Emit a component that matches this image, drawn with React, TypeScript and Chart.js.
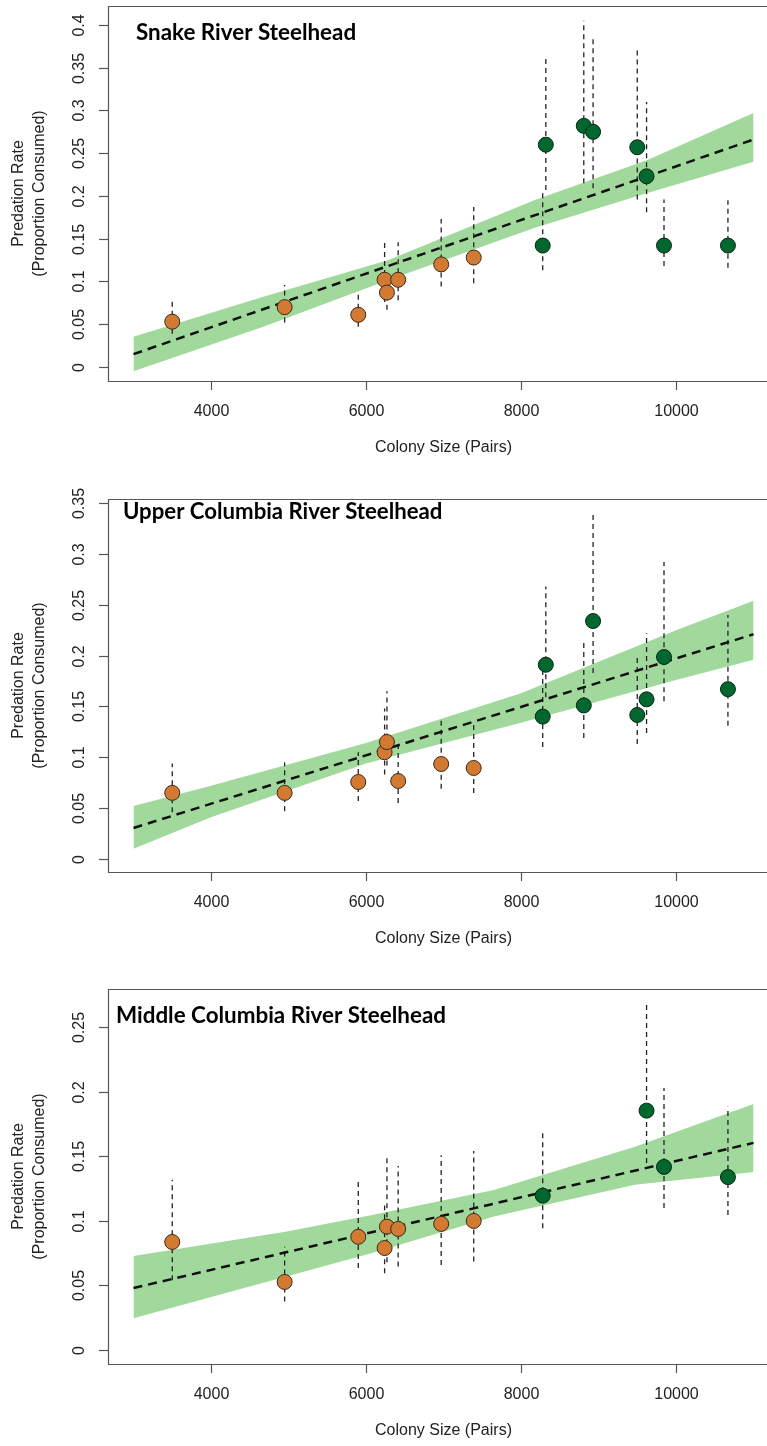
import React, { useEffect, useRef } from "react";
import { Chart, registerables } from "chart.js";
Chart.register(...registerables);

// ---------- data ----------
const orangeColony = [3500, 4950, 5900, 6240, 6270, 6415, 6970, 7390];
const greenColony = [8280, 8320, 8810, 8930, 9500, 9620, 9845, 10670];
const greenColonyMid = [8280, 9620, 9845, 10670];
const xTicks = [4000, 6000, 8000, 10000];
const fitX = [3000, 11000];

// Snake River Steelhead
const snakeOrangeRate = [0.053, 0.070, 0.061, 0.102, 0.087, 0.102, 0.120, 0.128];
const snakeOrangeLo = [0.039, 0.052, 0.047, 0.076, 0.067, 0.078, 0.094, 0.098];
const snakeOrangeHi = [0.077, 0.096, 0.088, 0.145, 0.110, 0.146, 0.173, 0.187];
const snakeGreenRate = [0.142, 0.260, 0.282, 0.275, 0.257, 0.223, 0.142, 0.142];
const snakeGreenLo = [0.113, 0.207, 0.215, 0.209, 0.196, 0.181, 0.118, 0.116];
const snakeGreenHi = [0.2035, 0.361, 0.405, 0.388, 0.372, 0.310, 0.196, 0.195];
const snakeFit = [0.015, 0.266];
const snakeBandX = [3000, 4675, 6290, 8170, 9630, 11000];
const snakeBandHi = [0.0355, 0.082, 0.125, 0.195, 0.242, 0.297];
const snakeBandLo = [-0.005, 0.047, 0.1017, 0.1626, 0.2035, 0.240];
const snakeYTicks = [0, 0.05, 0.1, 0.15, 0.2, 0.25, 0.3, 0.35, 0.4];

// Upper Columbia River Steelhead
const upperOrangeRate = [0.065, 0.065, 0.0757, 0.105, 0.115, 0.0767, 0.0934, 0.0895];
const upperOrangeLo = [0.046, 0.047, 0.057, 0.083, 0.092, 0.055, 0.069, 0.065];
const upperOrangeHi = [0.094, 0.095, 0.105, 0.148, 0.165, 0.114, 0.137, 0.135];
const upperGreenRate = [0.140, 0.191, 0.151, 0.234, 0.1416, 0.157, 0.1986, 0.167];
const upperGreenLo = [0.110, 0.159, 0.119, 0.183, 0.113, 0.124, 0.155, 0.131];
const upperGreenHi = [0.187, 0.268, 0.216, 0.341, 0.198, 0.222, 0.292, 0.240];
const upperFit = [0.0305, 0.221];
const upperBandX = [3000, 4000, 6000, 8000, 10000, 11000];
const upperBandHi = [0.052, 0.072, 0.114, 0.163, 0.225, 0.254];
const upperBandLo = [0.010, 0.041, 0.094, 0.134, 0.176, 0.196];
const upperYTicks = [0, 0.05, 0.1, 0.15, 0.2, 0.25, 0.3, 0.35];

// Middle Columbia River Steelhead
const midOrangeRate = [0.0837, 0.0527, 0.0877, 0.079, 0.0956, 0.0938, 0.0977, 0.100];
const midOrangeLo = [0.054, 0.0375, 0.0636, 0.0594, 0.068, 0.0646, 0.0659, 0.0685];
const midOrangeHi = [0.132, 0.080, 0.1305, 0.112, 0.149, 0.1426, 0.151, 0.1543];
const midGreenRate = [0.1196, 0.1855, 0.1419, 0.134];
const midGreenLo = [0.0943, 0.145, 0.110, 0.1047];
const midGreenHi = [0.1705, 0.269, 0.203, 0.1886];
const midFit = [0.048, 0.1605];
const midBandX = [3000, 4960, 6080, 7650, 9470, 11000];
const midBandHi = [0.0729, 0.0917, 0.1047, 0.124, 0.1576, 0.1907];
const midBandLo = [0.0246, 0.0568, 0.0752, 0.1034, 0.128, 0.138];
const midYTicks = [0, 0.05, 0.1, 0.15, 0.2, 0.25];

// ---------- styles ----------
const ORANGE = "rgb(210,122,50)";
const GREEN = "rgb(0,104,46)";
const BAND = "rgb(161,217,156)";
const AXIS_FONT = '16px "Liberation Sans", Arial, sans-serif';
const TITLE_FONT_FAMILY = 'Lato, "Open Sans", sans-serif';

type Panel = {
  title: string;
  titleX: number;
  titleY: number;
  titleW: number;
  top: number;
  height: number;
  padTop: number;
  padBottom: number;
  yMin: number;
  yMax: number;
  yTicks: number[];
  oX: number[]; oY: number[]; oLo: number[]; oHi: number[];
  gX: number[]; gY: number[]; gLo: number[]; gHi: number[];
  fit: number[];
  bandX: number[]; bandHi: number[]; bandLo: number[];
};

const panels: Panel[] = [
  {
    title: "Snake River Steelhead", titleX: 136, titleY: 33, titleW: 220,
    top: 0, height: 470, padTop: 6, padBottom: 89, yMin: -0.0164, yMax: 0.4222,
    yTicks: snakeYTicks,
    oX: orangeColony, oY: snakeOrangeRate, oLo: snakeOrangeLo, oHi: snakeOrangeHi,
    gX: greenColony, gY: snakeGreenRate, gLo: snakeGreenLo, gHi: snakeGreenHi,
    fit: snakeFit, bandX: snakeBandX, bandHi: snakeBandHi, bandLo: snakeBandLo,
  },
  {
    title: "Upper Columbia River Steelhead", titleX: 123, titleY: 42, titleW: 320,
    top: 470, height: 490, padTop: 29, padBottom: 88, yMin: -0.0128, yMax: 0.354,
    yTicks: upperYTicks,
    oX: orangeColony, oY: upperOrangeRate, oLo: upperOrangeLo, oHi: upperOrangeHi,
    gX: greenColony, gY: upperGreenRate, gLo: upperGreenLo, gHi: upperGreenHi,
    fit: upperFit, bandX: upperBandX, bandHi: upperBandHi, bandLo: upperBandLo,
  },
  {
    title: "Middle Columbia River Steelhead", titleX: 116, titleY: 56, titleW: 330,
    top: 960, height: 486, padTop: 29, padBottom: 82, yMin: -0.0109, yMax: 0.2798,
    yTicks: midYTicks,
    oX: orangeColony, oY: midOrangeRate, oLo: midOrangeLo, oHi: midOrangeHi,
    gX: greenColonyMid, gY: midGreenRate, gLo: midGreenLo, gHi: midGreenHi,
    fit: midFit, bandX: midBandX, bandHi: midBandHi, bandLo: midBandLo,
  },
];

const fmt = (v: number) => String(Number(v.toFixed(2)));

function errorSegments(xs: number[], lo: number[], hi: number[]) {
  const out: any[] = [];
  xs.forEach((x, i) => {
    out.push({ x, y: lo[i] });
    out.push({ x, y: hi[i] });
    out.push({ x, y: null });
  });
  return out;
}

function PanelChart({ p }: { p: Panel }) {
  const ref = useRef<HTMLCanvasElement | null>(null);
  useEffect(() => {
    if (!ref.current) return;
    const decor = {
      id: "rdecor",
      afterDraw(chart: any) {
        const ctx = chart.ctx as CanvasRenderingContext2D;
        const a = chart.chartArea;
        const xs = chart.scales.x;
        const ys = chart.scales.y;
        ctx.save();
        ctx.strokeStyle = "#555";
        ctx.lineWidth = 1.2;
        ctx.setLineDash([]);
        ctx.beginPath();
        ctx.moveTo(a.right + 5, a.top + 0.5);
        ctx.lineTo(a.left + 0.5, a.top + 0.5);
        ctx.lineTo(a.left + 0.5, a.bottom + 0.5);
        ctx.lineTo(a.right + 5, a.bottom + 0.5);
        ctx.stroke();
        // y ticks
        ctx.fillStyle = "#222";
        ctx.font = AXIS_FONT;
        ctx.textAlign = "center";
        ctx.textBaseline = "middle";
        p.yTicks.forEach((v) => {
          const py = Math.round(ys.getPixelForValue(v)) + 0.5;
          ctx.beginPath();
          ctx.moveTo(a.left - 9, py);
          ctx.lineTo(a.left, py);
          ctx.stroke();
          ctx.save();
          ctx.translate(a.left - 28, py);
          ctx.rotate(-Math.PI / 2);
          ctx.fillText(fmt(v), 0, 0);
          ctx.restore();
        });
        // x ticks
        xTicks.forEach((v) => {
          const px = Math.round(xs.getPixelForValue(v)) + 0.5;
          ctx.beginPath();
          ctx.moveTo(px, a.bottom);
          ctx.lineTo(px, a.bottom + 9);
          ctx.stroke();
          ctx.fillText(String(v), px, a.bottom + 31);
        });
        // axis titles
        const cx = xs.getPixelForValue(7000);
        ctx.fillText("Colony Size (Pairs)", cx, a.bottom + 67);
        const cy = (a.top + a.bottom) / 2;
        ctx.save();
        ctx.translate(19, cy);
        ctx.rotate(-Math.PI / 2);
        ctx.fillText("Predation Rate", 0, 0);
        ctx.restore();
        ctx.save();
        ctx.translate(40, cy);
        ctx.rotate(-Math.PI / 2);
        ctx.fillText("(Proportion Consumed)", 0, 0);
        ctx.restore();
        // panel title
        ctx.fillStyle = "#000";
        ctx.font = `bold 20px ${TITLE_FONT_FAMILY}`;
        const w = ctx.measureText(p.title).width;
        const size = (20 * p.titleW) / w;
        ctx.font = `bold ${size.toFixed(1)}px ${TITLE_FONT_FAMILY}`;
        ctx.textAlign = "left";
        ctx.fillText(p.title, p.titleX, p.titleY);
        ctx.restore();
      },
    };

    const chart = new Chart(ref.current, {
      type: "scatter",
      data: {
        datasets: [
          {
            type: "scatter",
            data: p.oX.map((x, i) => ({ x, y: p.oY[i] })),
            backgroundColor: ORANGE,
            borderColor: "#3a2a1c",
            borderWidth: 1,
            pointRadius: 7.5,
          },
          {
            type: "scatter",
            data: p.gX.map((x, i) => ({ x, y: p.gY[i] })),
            backgroundColor: GREEN,
            borderColor: "#0d2414",
            borderWidth: 1,
            pointRadius: 7.5,
          },
          {
            type: "line",
            data: fitX.map((x, i) => ({ x, y: p.fit[i] })),
            borderColor: "#111",
            borderWidth: 2.5,
            borderDash: [9, 6],
            pointRadius: 0,
            fill: false,
            showLine: true,
          },
          {
            type: "line",
            data: [
              ...errorSegments(p.oX, p.oLo, p.oHi),
              ...errorSegments(p.gX, p.gLo, p.gHi),
            ],
            borderColor: "#222",
            borderWidth: 1.3,
            borderDash: [5, 4],
            pointRadius: 0,
            spanGaps: false,
            fill: false,
            showLine: true,
          },
          {
            type: "line",
            data: p.bandX.map((x, i) => ({ x, y: p.bandHi[i] })),
            borderColor: "transparent",
            borderWidth: 0,
            backgroundColor: BAND,
            pointRadius: 0,
            fill: "+1",
            showLine: true,
          },
          {
            type: "line",
            data: p.bandX.map((x, i) => ({ x, y: p.bandLo[i] })),
            borderColor: "transparent",
            borderWidth: 0,
            pointRadius: 0,
            fill: false,
            showLine: true,
          },
        ] as any,
      },
      options: {
        responsive: false,
        animation: false,
        devicePixelRatio: 1,
        layout: {
          autoPadding: false,
          padding: { left: 108, right: 0, top: p.padTop, bottom: p.padBottom },
        },
        plugins: { legend: { display: false }, tooltip: { enabled: false } },
        events: [],
        scales: {
          x: { type: "linear", min: 2671, max: 11174, display: false },
          y: { type: "linear", min: p.yMin, max: p.yMax, display: false },
        },
      } as any,
      plugins: [decor],
    });
    return () => chart.destroy();
  }, [p]);

  return (
    <canvas
      ref={ref}
      width={767}
      height={p.height}
      style={{ position: "absolute", left: 0, top: p.top, width: 767, height: p.height }}
    />
  );
}

export default function App() {
  return (
    <div
      style={{
        position: "absolute",
        left: 0,
        top: 0,
        width: 767,
        height: 1446,
        overflow: "hidden",
        background: "#fff",
      }}
    >
      {panels.map((p) => (
        <PanelChart key={p.title} p={p} />
      ))}
    </div>
  );
}
